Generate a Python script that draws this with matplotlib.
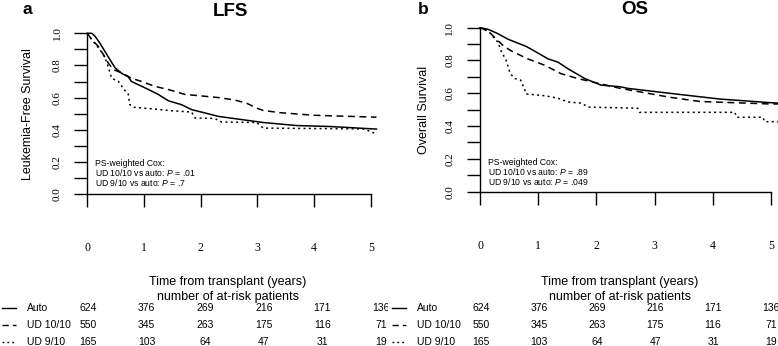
import numpy as np
import matplotlib
matplotlib.use("Agg")
import matplotlib.pyplot as plt

plt.rcParams["font.family"] = ["Liberation Sans", "DejaVu Sans"]
plt.rcParams["mathtext.fontset"] = "custom"
plt.rcParams["mathtext.it"] = "Liberation Sans:italic"
plt.rcParams["mathtext.rm"] = "Liberation Sans"

# LFS curves (years, survival)
lfs_auto_t = [0, 0.08, 0.14, 0.22, 0.31, 0.40, 0.49, 0.61, 0.72, 0.78, 0.90, 1.08, 1.25, 1.43,
              1.66, 1.84, 2.08, 2.31, 2.60, 3.10, 3.69, 4.28, 5.10]
lfs_auto_s = [1.0, 1.0, 0.98, 0.94, 0.888, 0.836, 0.785, 0.75, 0.73, 0.70, 0.68, 0.65, 0.62, 0.58,
              0.556, 0.525, 0.504, 0.483, 0.469, 0.445, 0.426, 0.42, 0.404]
lfs_ud10_t = [0, 0.08, 0.19, 0.28, 0.37, 0.46, 0.61, 0.78, 0.96, 1.19, 1.43, 1.72, 2.02, 2.31,
              2.60, 2.81, 2.99, 3.10, 3.40, 3.99, 5.10]
lfs_ud10_s = [1.0, 0.96, 0.92, 0.87, 0.815, 0.774, 0.753, 0.72, 0.70, 0.67, 0.65, 0.62, 0.61, 0.60,
              0.585, 0.565, 0.534, 0.52, 0.506, 0.49, 0.478]
lfs_ud9_t = [0, 0.08, 0.22, 0.31, 0.37, 0.43, 0.55, 0.66, 0.72, 0.75, 0.81, 1.14, 1.49, 1.84,
             1.90, 2.25, 2.37, 2.99, 3.10, 4.87, 4.99, 5.10]
lfs_ud9_s = [1.0, 0.96, 0.90, 0.85, 0.79, 0.72, 0.70, 0.645, 0.626, 0.556, 0.54, 0.53, 0.518, 0.51,
             0.473, 0.47, 0.448, 0.445, 0.41, 0.405, 0.39, 0.373]

# OS curves
os_auto_t = [0, 0.14, 0.30, 0.48, 0.80, 1.17, 1.34, 1.51, 1.80, 2.08, 2.41, 2.54, 3.26, 4.12, 4.98, 5.15]
os_auto_s = [1.0, 0.99, 0.965, 0.93, 0.885, 0.81, 0.79, 0.75, 0.69, 0.65, 0.64, 0.63, 0.60, 0.565, 0.543, 0.54]
os_ud10_t = [0, 0.14, 0.31, 0.40, 0.53, 0.82, 1.12, 1.39, 1.68, 1.86, 2.41, 3.26, 3.78, 4.98, 5.15]
os_ud10_s = [1.0, 0.98, 0.92, 0.89, 0.86, 0.81, 0.77, 0.72, 0.69, 0.675, 0.63, 0.576, 0.55, 0.535, 0.535]
os_ud9_t = [0, 0.14, 0.31, 0.36, 0.45, 0.52, 0.60, 0.70, 0.77, 0.79, 1.12, 1.34, 1.51, 1.74,
            1.86, 2.71, 2.74, 4.38, 4.41, 4.86, 4.89, 5.15]
os_ud9_s = [1.0, 0.98, 0.91, 0.86, 0.80, 0.72, 0.69, 0.68, 0.62, 0.596, 0.585, 0.57, 0.547, 0.54,
            0.516, 0.509, 0.484, 0.484, 0.454, 0.454, 0.427, 0.427]

groups = ["Auto", "UD 10/10", "UD 9/10"]
risk_years = [0, 1, 2, 3, 4, 5]
risk_auto = [624, 376, 269, 216, 171, 136]
risk_ud10 = [550, 345, 263, 175, 116, 71]
risk_ud9 = [165, 103, 64, 47, 31, 19]

lfs_notes = ["PS-weighted Cox:", "UD 10/10 vs auto: $\\mathit{P}$ = .01", "UD 9/10 vs auto: $\\mathit{P}$ = .7"]
os_notes = ["PS-weighted Cox:", "UD 10/10 vs auto: $\\mathit{P}$ = .89", "UD 9/10 vs auto: $\\mathit{P}$ = .049"]

styles = [dict(ls="-"), dict(ls=(0, (4.5, 3))), dict(ls=(0, (1.3, 2.2)))]

W, H = 778, 346
fig = plt.figure(figsize=(W / 100, H / 100), dpi=100)


def px(x, y, w, h):
    return [x / W, (H - y - h) / H, w / W, h / H]


def km_panel(rect, xmax, curves, notes, note_y, ylabel, ylabel_x):
    ax = fig.add_axes(rect)
    for (t, s), st in zip(curves, styles):
        ax.plot(t, s, color="black", lw=1.1, clip_on=False, **st)
    ax.set_xlim(0, xmax)
    ax.set_ylim(0, 1)
    for sp in ["top", "right"]:
        ax.spines[sp].set_visible(False)
    ax.spines["bottom"].set_bounds(0, 5)
    ax.spines["left"].set_linewidth(1.0)
    ax.spines["bottom"].set_linewidth(1.0)
    ax.set_xticks(risk_years)
    ax.set_xticklabels([str(v) for v in risk_years], family="Liberation Serif", fontsize=8.5)
    ax.set_yticks(np.arange(0, 1.01, 0.2))
    ax.set_yticks(np.arange(0.1, 1.0, 0.2), minor=True)
    ax.set_yticklabels(["%.1f" % v for v in np.arange(0, 1.01, 0.2)], family="Liberation Serif",
                       fontsize=8, rotation=90, va="center")
    ax.tick_params(axis="x", which="both", length=9.5, width=1.0, pad=25)
    ax.tick_params(axis="y", which="both", length=9.5, width=1.0, pad=9)
    ax.set_ylabel(ylabel, fontsize=9)
    ax.yaxis.set_label_coords(ylabel_x, 0.5)
    for txt, yy in zip(notes, note_y):
        ax.text(0.14, yy, txt, fontsize=6.2, va="center", ha="left")
    return ax


def risk_table(left, x0, x1, clip_right, head_x):
    tab = fig.add_axes(px(left, 299.5, clip_right - left, 51))
    scale = (x1 - x0) / 5
    tab.set_xlim((left - x0) / scale, (clip_right - x0) / scale)
    tab.set_ylim(2.5, -0.5)
    tab.axis("off")
    for r, (name, counts, st) in enumerate(zip(groups, [risk_auto, risk_ud10, risk_ud9], styles)):
        tab.plot([(left + 2 - x0) / scale, (left + 16 - x0) / scale], [r, r], color="black", lw=1.0, **st)
        tab.text((left + 27 - x0) / scale, r, name, fontsize=7.5, va="center", ha="left")
        for yr, n in zip(risk_years, counts):
            tab.text(yr, r, str(n), fontsize=7.5, va="center", ha="center", clip_on=True)
    fig.text(head_x / W, 1 - 282 / H, "Time from transplant (years)", fontsize=9, ha="center", va="center")
    fig.text(head_x / W, 1 - 297 / H, "number of at-risk patients", fontsize=9, ha="center", va="center")


km_panel(px(87.3, 33.3, 290.3, 160.7), 5.12,
         [(lfs_auto_t, lfs_auto_s), (lfs_ud10_t, lfs_ud10_s), (lfs_ud9_t, lfs_ud9_s)],
         lfs_notes, [0.191, 0.133, 0.073], "Leukemia-Free Survival", -0.185)
km_panel(px(480, 27.7, 299.7, 164), 5.15,
         [(os_auto_t, os_auto_s), (os_ud10_t, os_ud10_s), (os_ud9_t, os_ud9_s)],
         os_notes, [0.179, 0.122, 0.061], "Overall Survival", -0.168)

risk_table(0, 88, 381, 388, 228)
risk_table(390, 481, 771, 778, 620)

fig.text(27 / W, 1 - 10 / H, "a", fontsize=12.5, fontweight="bold", ha="center", va="center")
fig.text(230 / W, 1 - 11 / H, "LFS", fontsize=13.5, fontweight="bold", ha="center", va="center")
fig.text(423 / W, 1 - 9 / H, "b", fontsize=12.5, fontweight="bold", ha="center", va="center")
fig.text(635 / W, 1 - 10 / H, "OS", fontsize=13.5, fontweight="bold", ha="center", va="center")

fig.savefig("out.png", dpi=100)
